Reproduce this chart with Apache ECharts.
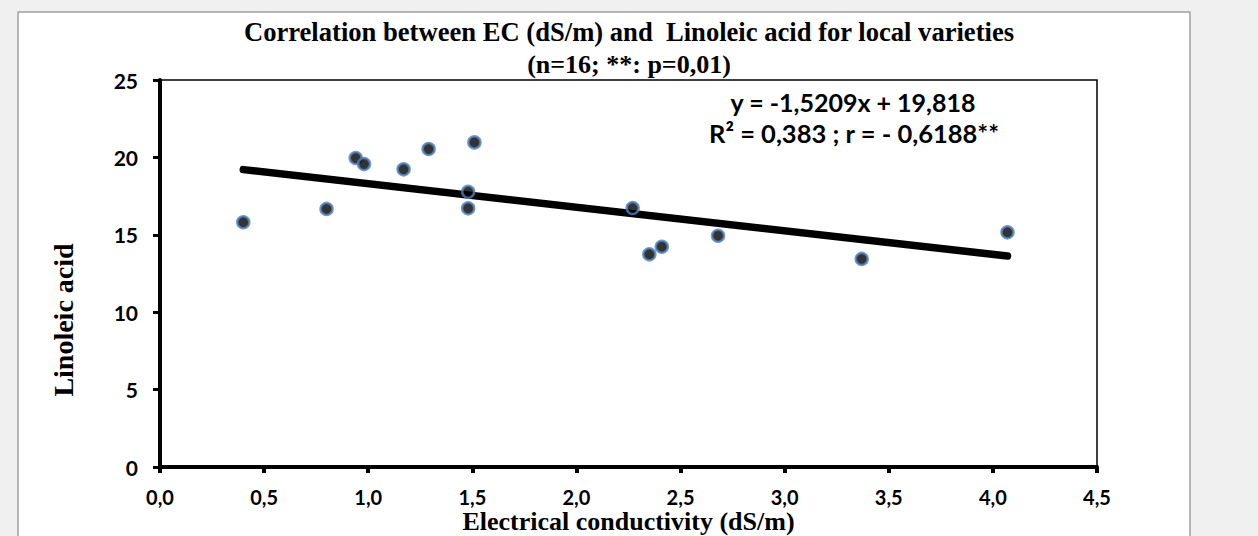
<!DOCTYPE html>
<html>
<head>
<meta charset="utf-8">
<script src="https://cdn.jsdelivr.net/npm/echarts@6/dist/echarts.min.js"></script>
<style>
html,body{margin:0;padding:0;background:#f0f0f0;}
#chart{width:1258px;height:536px;}
</style>
</head>
<body>
<div id="chart"></div>
<script>
// ---- data ----
const ecValues = [0.40, 0.80, 0.94, 0.98, 1.17, 1.29, 1.51, 1.48, 1.48, 2.27, 2.35, 2.41, 2.68, 3.37, 4.07];
const linoleicValues = [15.81, 16.67, 19.96, 19.57, 19.23, 20.54, 20.97, 17.78, 16.71, 16.73, 13.74, 14.23, 14.94, 13.44, 15.16];
const trendSlope = -1.5209;
const trendIntercept = 19.818;
const titleLine1 = 'Correlation between EC (dS/m) and  Linoleic acid for local varieties';
const titleLine2 = '(n=16; **: p=0,01)';
const equationLine1 = 'y = -1,5209x + 19,818';
const equationLine2 = 'R² = 0,383 ; r = - 0,6188**';
const xAxisTitle = 'Electrical conductivity (dS/m)';
const yAxisTitle = 'Linoleic acid';

const points = ecValues.map((x, i) => [x, linoleicValues[i]]);
const xMin = Math.min(...ecValues), xMax = Math.max(...ecValues);
const trend = [[xMin, trendSlope * xMin + trendIntercept], [xMax, trendSlope * xMax + trendIntercept]];
const fmt = v => v.toFixed(1).replace('.', ',');

const chart = echarts.init(document.getElementById('chart'), null, {renderer: 'svg'});
const serif = '"Liberation Serif", "Times New Roman", serif';
const sans = 'Lato, "Open Sans", sans-serif';

chart.setOption({
  backgroundColor: '#f0f0f0',
  animation: false,
  title: [
    {text: titleLine1, left: 'center', top: 13,
     textStyle: {fontFamily: serif, fontWeight: 'bold', fontSize: 26.6, color: '#000'}},
    {text: titleLine2, left: 'center', top: 46,
     textStyle: {fontFamily: serif, fontWeight: 'bold', fontSize: 26, color: '#000'}}
  ],
  graphic: [
    {type: 'rect', z: -10, silent: true,
     shape: {x: 18, y: 12, width: 1172, height: 540},
     style: {fill: '#ffffff', stroke: '#a0a0a0', lineWidth: 1.5}},
    {type: 'text', x: 63, y: 320, rotation: Math.PI / 2, z: 10,
     style: {text: yAxisTitle, textAlign: 'center', textVerticalAlign: 'middle',
             font: 'bold 28px ' + serif, fill: '#000'}},
    {type: 'text', x: 853, y: 102, z: 10,
     style: {text: equationLine1, textAlign: 'center', textVerticalAlign: 'middle',
             font: 'bold 25px ' + sans, fill: '#000'}},
    {type: 'text', x: 854, y: 133, z: 10,
     style: {text: equationLine2, textAlign: 'center', textVerticalAlign: 'middle',
             font: 'bold 25.5px ' + sans, fill: '#000'}}
  ],
  grid: {left: 160, right: 161, top: 80, bottom: 69, show: true, outerBoundsMode: 'none', containLabel: false,
         backgroundColor: 'transparent', borderColor: '#000', borderWidth: 1.5},
  xAxis: {
    type: 'value', min: 0, max: 4.5, interval: 0.5,
    name: xAxisTitle, nameLocation: 'middle', nameGap: 41, nameMoveOverlap: false,
    nameTextStyle: {fontFamily: serif, fontWeight: 'bold', fontSize: 26, lineHeight: 26, color: '#000'},
    axisLine: {show: true, onZero: false, lineStyle: {color: '#000', width: 4}},
    axisTick: {show: true, inside: false, length: 6, lineStyle: {color: '#000', width: 4}},
    axisLabel: {margin: 20, formatter: fmt, fontFamily: sans, fontWeight: 'bold', fontSize: 20, lineHeight: 20, color: '#000'},
    splitLine: {show: false}
  },
  yAxis: {
    type: 'value', min: 0, max: 25, interval: 5,
    axisLine: {show: true, onZero: false, lineStyle: {color: '#000', width: 4}},
    axisTick: {show: true, inside: false, length: 7, lineStyle: {color: '#000', width: 3}},
    axisLabel: {margin: 22, fontFamily: sans, fontWeight: 'bold', fontSize: 21, color: '#000'},
    splitLine: {show: false}
  },
  series: [
    {type: 'line', data: trend, showSymbol: false, symbol: 'none', z: 2,
     lineStyle: {color: '#000', width: 7.5, cap: 'round'}},
    {type: 'scatter', data: points, symbol: 'circle', symbolSize: 12, z: 3,
     itemStyle: {color: '#000', borderColor: '#4f81bd', borderWidth: 2.5}}
  ]
});
</script>
</body>
</html>
